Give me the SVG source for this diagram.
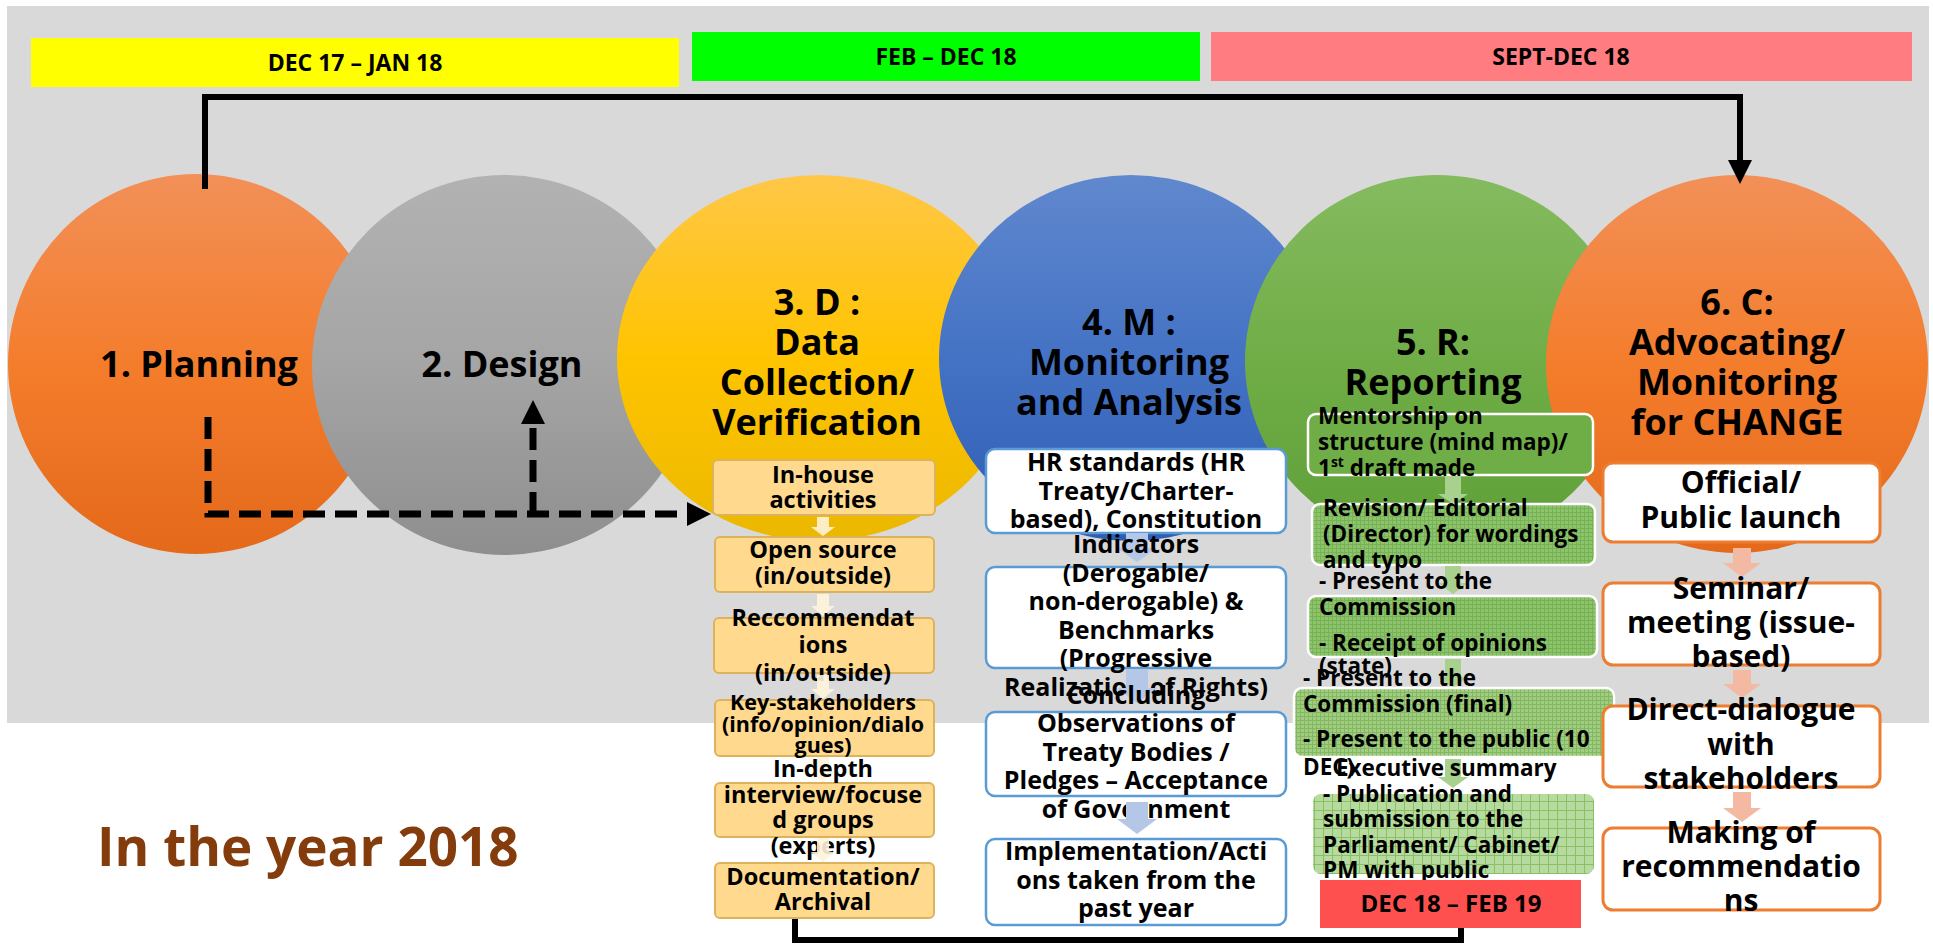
<svg xmlns="http://www.w3.org/2000/svg" width="1933" height="944" viewBox="0 0 1933 944">
<defs>
<style>
text{font-family:"Open Sans","Noto Sans","DejaVu Sans",sans-serif;font-weight:700;fill:#000}
.bar{font-size:23px;text-anchor:middle}
.big{font-size:36px;text-anchor:middle}
.c3{font-size:23.5px;text-anchor:middle}
.c3s{font-size:21.5px;text-anchor:middle}
.c4{font-size:25px;text-anchor:middle}
.c5{font-size:22.5px}
.c6{font-size:30px;text-anchor:middle}
.ybox{fill:#FFD98E;stroke:#DDB25C;stroke-width:2}
.bbox{fill:#FFFFFF;stroke:#5B9BD5;stroke-width:2.5}
.obox{fill:#FFFFFF;stroke:#ED7D31;stroke-width:3}
.gbox{stroke:#FFFFFF;stroke-width:2.5}
.yarr{fill:#FFF3DA;opacity:0.9}
.barr{fill:#B4C7E7}
.oarr{fill:#F4B9A2}
.garr{fill:#A9D18E}
.solid{fill:none;stroke:#000;stroke-width:6}
.dash{fill:none;stroke:#000;stroke-width:7;stroke-dasharray:24 9}
</style>
<linearGradient id="gOrange" x1="0" y1="0" x2="0" y2="1">
<stop offset="0" stop-color="#F29058"/><stop offset="0.5" stop-color="#F47D2C"/><stop offset="1" stop-color="#E4691A"/>
</linearGradient>
<linearGradient id="gGray" x1="0" y1="0" x2="0" y2="1">
<stop offset="0" stop-color="#B2B2B2"/><stop offset="0.5" stop-color="#A5A5A5"/><stop offset="1" stop-color="#8E8E8E"/>
</linearGradient>
<linearGradient id="gYellow" x1="0" y1="0" x2="0" y2="1">
<stop offset="0" stop-color="#FFC747"/><stop offset="0.5" stop-color="#FFC400"/><stop offset="1" stop-color="#EBB800"/>
</linearGradient>
<linearGradient id="gBlue" x1="0" y1="0" x2="0" y2="1">
<stop offset="0" stop-color="#6088CE"/><stop offset="0.5" stop-color="#4472C4"/><stop offset="1" stop-color="#2E5DB5"/>
</linearGradient>
<linearGradient id="gGreen" x1="0" y1="0" x2="0" y2="1">
<stop offset="0" stop-color="#85BB5F"/><stop offset="0.5" stop-color="#70AD47"/><stop offset="1" stop-color="#5E9F38"/>
</linearGradient>
<pattern id="gridFine" width="4" height="4" patternUnits="userSpaceOnUse">
<path d="M0 0.5H4M0.5 0V4" stroke="#4F8F2C" stroke-width="1" opacity="0.35"/>
</pattern>
<pattern id="gridCoarse" width="9" height="9" patternUnits="userSpaceOnUse">
<path d="M0 0.5H9M0.5 0V9" stroke="#7DB859" stroke-width="1" opacity="0.8"/>
</pattern>
<marker id="arrowHead" viewBox="0 0 24 24" markerWidth="24" markerHeight="24" refX="0" refY="12" orient="auto" markerUnits="userSpaceOnUse">
<path d="M0,0 L24,12 L0,24 Z" fill="#000"/>
</marker>
</defs>

<rect x="0" y="0" width="1933" height="944" fill="#FFFFFF"/>
<rect x="7" y="6" width="1922" height="717" fill="#D9D9D9"/>

<g id="bar-dec17-jan18">
<rect x="31" y="38" width="648" height="49" fill="#FFFF00"/>
<text class="bar" x="355" y="71">DEC 17 – JAN 18</text>
</g>
<g id="bar-feb-dec18">
<rect x="692" y="32" width="508" height="49" fill="#00FF00"/>
<text class="bar" x="946" y="65">FEB – DEC 18</text>
</g>
<g id="bar-sept-dec18">
<rect x="1211" y="32" width="701" height="49" fill="#FF7C80"/>
<text class="bar" x="1561" y="65">SEPT-DEC 18</text>
</g>

<g id="node-planning">
<ellipse cx="196" cy="364" rx="188" ry="190" fill="url(#gOrange)"/>
<text class="big" x="199" y="377">1. Planning</text>
</g>
<g id="node-design">
<ellipse cx="504" cy="365" rx="192" ry="190" fill="url(#gGray)"/>
<text class="big" x="502" y="377">2. Design</text>
</g>
<g id="node-data">
<ellipse cx="819" cy="358" rx="202" ry="183" fill="url(#gYellow)"/>
<text class="big" x="817" y="315">3. D :</text>
<text class="big" x="817" y="355">Data</text>
<text class="big" x="817" y="395">Collection/</text>
<text class="big" x="817" y="435">Verification</text>
</g>
<g id="node-monitoring">
<ellipse cx="1131" cy="358" rx="192" ry="183" fill="url(#gBlue)"/>
<text class="big" x="1129" y="335">4. M :</text>
<text class="big" x="1129" y="375">Monitoring</text>
<text class="big" x="1129" y="415">and Analysis</text>
</g>
<g id="node-reporting">
<ellipse cx="1437" cy="361" rx="192" ry="186" fill="url(#gGreen)"/>
<text class="big" x="1433" y="355">5. R:</text>
<text class="big" x="1433" y="395">Reporting</text>
</g>
<g id="node-advocating">
<ellipse cx="1737" cy="364" rx="191" ry="189" fill="url(#gOrange)"/>
<text class="big" x="1737" y="315">6. C:</text>
<text class="big" x="1737" y="355">Advocating/</text>
<text class="big" x="1737" y="395">Monitoring</text>
<text class="big" x="1737" y="435">for CHANGE</text>
</g>

<g id="connectors">
<path class="solid" d="M205,189 V97 H1740 V160" marker-end="url(#arrowHead)"/>
<path class="dash" style="stroke-dasharray:22 10" d="M208,417 V514 H687" marker-end="url(#arrowHead)"/>
<path class="dash" style="stroke-dasharray:22 10" d="M533,514 V424" marker-end="url(#arrowHead)"/>
<path class="solid" d="M795,918 V940 H1461 V928"/>
</g>

<g id="col-data-collection">
<g id="dc-inhouse">
<rect class="ybox" x="713" y="460" width="222" height="55" rx="5"/>
<text class="c3" x="823" y="483">In-house</text>
<text class="c3" x="823" y="508">activities</text>
</g>
<polygon class="yarr" points="817,517 829,517 829,527 835,527 823,536 811,527 817,527"/>
<g id="dc-opensource">
<rect class="ybox" x="715" y="537" width="219" height="55" rx="5"/>
<text class="c3" x="823" y="558">Open source</text>
<text class="c3" x="823" y="584">(in/outside)</text>
</g>
<polygon class="yarr" points="817,594 829,594 829,606 835,606 823,616 811,606 817,606"/>
<g id="dc-recommendations">
<rect class="ybox" x="714" y="618" width="220" height="55" rx="5"/>
<text class="c3" x="823" y="626">Reccommendat</text>
<text class="c3" x="823" y="653">ions</text>
<text class="c3" x="823" y="681">(in/outside)</text>
</g>
<polygon class="yarr" points="817,675 829,675 829,689 835,689 823,699 811,689 817,689"/>
<g id="dc-stakeholders">
<rect class="ybox" x="715" y="700" width="219" height="56" rx="5"/>
<text class="c3s" x="823" y="710">Key-stakeholders</text>
<text class="c3s" x="823" y="732">(info/opinion/dialo</text>
<text class="c3s" x="823" y="753">gues)</text>
</g>
<polygon class="yarr" points="817,757 829,757 829,772 835,772 823,782 811,772 817,772"/>
<g id="dc-interview">
<rect class="ybox" x="715" y="783" width="219" height="54" rx="5"/>
<text class="c3" x="823" y="777">In-depth</text>
<text class="c3" x="823" y="803">interview/focuse</text>
<text class="c3" x="823" y="828">d groups</text>
<text class="c3" x="823" y="854">(experts)</text>
</g>
<polygon class="yarr" points="817,838 829,838 829,852 835,852 823,862 811,852 817,852"/>
<g id="dc-documentation">
<rect class="ybox" x="715" y="863" width="219" height="55" rx="5"/>
<text class="c3" x="823" y="885">Documentation/</text>
<text class="c3" x="823" y="910">Archival</text>
</g>
</g>

<g id="col-monitoring">
<g id="m-hr-standards">
<rect class="bbox" x="986" y="449" width="300" height="84" rx="9"/>
<text class="c4" x="1136" y="471">HR standards (HR</text>
<text class="c4" x="1136" y="500">Treaty/Charter-</text>
<text class="c4" x="1136" y="528">based), Constitution</text>
</g>
<polygon class="barr" points="1126,533 1148,533 1148,548 1157,548 1137,562 1117,548 1126,548"/>
<g id="m-indicators">
<rect class="bbox" x="986" y="567" width="300" height="101" rx="9"/>
<text class="c4" x="1136" y="553">Indicators</text>
<text class="c4" x="1136" y="582">(Derogable/</text>
<text class="c4" x="1136" y="610">non-derogable) &amp;</text>
<text class="c4" x="1136" y="639">Benchmarks</text>
<text class="c4" x="1136" y="667">(Progressive</text>
<text class="c4" x="1136" y="696">Realization of Rights)</text>
</g>
<polygon class="barr" points="1126,670 1148,670 1148,688 1157,688 1137,703 1117,688 1126,688"/>
<g id="m-concluding">
<rect class="bbox" x="986" y="712" width="300" height="84" rx="9"/>
<text class="c4" x="1136" y="704">Concluding</text>
<text class="c4" x="1136" y="732">Observations of</text>
<text class="c4" x="1136" y="761">Treaty Bodies /</text>
<text class="c4" x="1136" y="789">Pledges – Acceptance</text>
<text class="c4" x="1136" y="818">of Government</text>
</g>
<polygon class="barr" points="1126,802 1148,802 1148,819 1157,819 1137,834 1117,819 1126,819"/>
<g id="m-implementation">
<rect class="bbox" x="986" y="839" width="300" height="86" rx="9"/>
<text class="c4" x="1136" y="860">Implementation/Acti</text>
<text class="c4" x="1136" y="889">ons taken from the</text>
<text class="c4" x="1136" y="917">past year</text>
</g>
</g>

<g id="col-reporting">
<g id="r-mentorship">
<rect class="gbox" x="1308" y="414" width="285" height="61" rx="8" fill="#6FAD46"/>
<text class="c5" x="1318" y="424">Mentorship on</text>
<text class="c5" x="1318" y="450">structure (mind map)/</text>
<text class="c5" x="1318" y="476">1<tspan font-size="14" dy="-9">st</tspan><tspan dy="9"> draft made</tspan></text>
</g>
<polygon class="garr" points="1445,476 1461,476 1461,494 1468,494 1453,504 1438,494 1445,494"/>
<g id="r-revision">
<rect x="1312" y="504" width="283" height="61" rx="8" fill="#8DC46B"/>
<rect class="gbox" x="1312" y="504" width="283" height="61" rx="8" fill="url(#gridFine)"/>
<text class="c5" x="1323" y="516">Revision/ Editorial</text>
<text class="c5" x="1323" y="542">(Director) for wordings</text>
<text class="c5" x="1323" y="568">and typo</text>
</g>
<polygon class="garr" points="1445,566 1461,566 1461,583 1468,583 1453,594 1438,583 1445,583"/>
<g id="r-commission">
<rect x="1308" y="596" width="289" height="61" rx="8" fill="#8DC46B"/>
<rect class="gbox" x="1308" y="596" width="289" height="61" rx="8" fill="url(#gridFine)"/>
<text class="c5" x="1319" y="589">- Present to the</text>
<text class="c5" x="1319" y="615">Commission</text>
<text class="c5" x="1319" y="651">- Receipt of opinions</text>
<text class="c5" x="1319" y="674">(state)</text>
</g>
<polygon class="garr" points="1445,659 1461,659 1461,677 1468,677 1453,688 1438,677 1445,677"/>
<g id="r-final">
<rect x="1294" y="688" width="320" height="69" rx="8" fill="#A0CD80"/>
<rect class="gbox" x="1294" y="688" width="320" height="69" rx="8" fill="url(#gridFine)"/>
<text class="c5" x="1303" y="686">- Present to the</text>
<text class="c5" x="1303" y="712">Commission (final)</text>
<text class="c5" x="1303" y="747">- Present to the public (10</text>
<text class="c5" x="1303" y="775">DEC)</text>
</g>
<polygon class="garr" points="1445,759 1461,759 1461,777 1468,777 1453,788 1438,777 1445,777"/>
<g id="r-publication">
<rect x="1313" y="794" width="281" height="80" rx="8" fill="#B7DB9E"/>
<rect x="1313" y="794" width="281" height="80" rx="8" fill="url(#gridCoarse)"/>
<text class="c5" x="1336" y="776">Executive summary</text>
<text class="c5" x="1323" y="802">- Publication and</text>
<text class="c5" x="1323" y="827">submission to the</text>
<text class="c5" x="1323" y="853">Parliament/ Cabinet/</text>
<text class="c5" x="1323" y="878">PM with public</text>
</g>
<g id="bar-dec18-feb19">
<rect x="1320" y="880" width="261" height="48" fill="#FF5050"/>
<text class="bar" x="1451" y="912" style="font-size:24px">DEC 18 – FEB 19</text>
</g>
</g>

<g id="col-advocating">
<g id="a-launch">
<rect class="obox" x="1603" y="463" width="277" height="79" rx="10"/>
<text class="c6" x="1741" y="493">Official/</text>
<text class="c6" x="1741" y="528">Public launch</text>
</g>
<polygon class="oarr" points="1733,548 1751,548 1751,563 1761,563 1742,577 1723,563 1733,563"/>
<g id="a-seminar">
<rect class="obox" x="1603" y="583" width="277" height="82" rx="10"/>
<text class="c6" x="1741" y="599">Seminar/</text>
<text class="c6" x="1741" y="633">meeting (issue-</text>
<text class="c6" x="1741" y="667">based)</text>
</g>
<polygon class="oarr" points="1733,670 1751,670 1751,684 1761,684 1742,698 1723,684 1733,684"/>
<g id="a-dialogue">
<rect class="obox" x="1603" y="706" width="277" height="81" rx="10"/>
<text class="c6" x="1741" y="720">Direct-dialogue</text>
<text class="c6" x="1741" y="755">with</text>
<text class="c6" x="1741" y="789">stakeholders</text>
</g>
<polygon class="oarr" points="1733,792 1751,792 1751,808 1761,808 1742,822 1723,808 1733,808"/>
<g id="a-recommendations">
<rect class="obox" x="1603" y="828" width="277" height="82" rx="10"/>
<text class="c6" x="1741" y="843">Making of</text>
<text class="c6" x="1741" y="877">recommendatio</text>
<text class="c6" x="1741" y="911">ns</text>
</g>
</g>

<text x="97" y="866" style="font-size:53px;fill:#843C0C">In the year 2018</text>
</svg>
